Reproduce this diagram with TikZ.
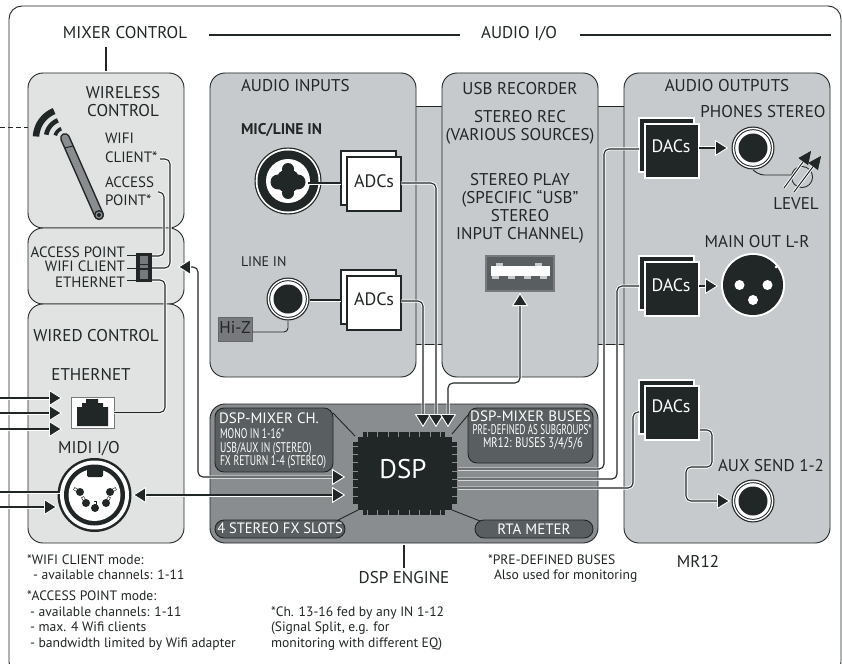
\documentclass[tikz,border=0pt]{standalone}
\usepackage{fontspec}
\usepackage{graphicx}
\setmainfont{PT Sans}
\setsansfont{PT Sans}
\usetikzlibrary{arrows.meta,calc}
\definecolor{ink}{HTML}{212626}
\definecolor{pale}{HTML}{E1E3E3}
\definecolor{midg}{HTML}{C7CACC}
\definecolor{dspg}{HTML}{8A8D90}
\definecolor{subg}{HTML}{595E60}
\definecolor{hiz}{HTML}{77797C}
\newcounter{tn}
\newcommand\fs[1]{\fontsize{#1}{#1}\selectfont}
\newcommand\txtat[4][]{\stepcounter{tn}\node[txt,#1] (t\arabic{tn}) at (#2,#3) {#4};}
\newcommand\bx[6]{\node[#6,minimum width={((#4)-(#2))*1pt},minimum height={((#5)-(#3))*1pt}] (#1) at ({((#2)+(#4))/2},{((#3)+(#5))/2}) {};}
\newcommand\disc[5]{\node[circle,fill=#4,minimum size={2*#3*1pt},inner sep=0,outer sep=0] (#5) at (#1,#2) {};}
\newcommand\jack[3]{%
  \disc{#2}{#3}{21.5}{ink}{#1}\disc{#2}{#3}{20.3}{white}{#1a}%
  \disc{#2}{#3}{18.8}{ink}{#1b}\disc{#2}{#3}{17.8}{white}{#1c}\disc{#2}{#3}{14.5}{ink}{#1d}}
\newcommand\adc[4]{% name x y style
  \bx{#1b}{#2}{#3}{#2+55}{#3+54}{#4}\bx{#1}{#2+6}{#3+6}{#2+60}{#3+60}{#4}}
\tikzset{
  txt/.style={text=ink,inner sep=0,outer sep=0,align=center,anchor=mid,yshift=-1.5pt,font=\fs{17}},
  lft/.style={anchor=mid west,align=left},
  note/.style={anchor=mid west,align=left,font=\fs{13.6}},
  wht/.style={text=white},
  panel/.style={draw=ink,line width=0.9pt,rounded corners=15pt,inner sep=0,outer sep=0},
  lightp/.style={panel,fill=pale},
  midp/.style={panel,fill=midg},
  dspp/.style={panel,fill=dspg},
  subp/.style={draw=ink,line width=0.9pt,fill=subg,rounded corners=9pt,inner sep=0,outer sep=0},
  band/.style={fill=midg,inner sep=0,outer sep=0},
  adcbox/.style={draw=ink,line width=1.2pt,fill=white,inner sep=0,outer sep=0},
  dacbox/.style={draw=white,line width=1.2pt,fill=ink,inner sep=0,outer sep=0},
  wire/.style={draw=ink,line width=1.1pt,rounded corners=5pt,preaction={draw=white,line width=3pt}},
  darkw/.style={draw=ink,line width=0.9pt,rounded corners=4pt},
  headw/.style={-{Triangle[length=13pt,width=16pt,color=white,fill=ink,line width=0.8pt]}},
  headb/.style={{Triangle[length=13pt,width=16pt,color=white,fill=ink,line width=0.8pt]}-{Triangle[length=13pt,width=16pt,color=white,fill=ink,line width=0.8pt]}},
  rule/.style={draw=ink,line width=2pt},
}
\begin{document}
\begin{tikzpicture}[x=1pt,y=-1pt]
\useasboundingbox (0,0) rectangle (842,663);
\fill[white] (0,0) rectangle (842,663);
% outer frame
\bx{frame}{9}{6}{841}{675}{draw=ink,line width=0.9pt,rounded corners=13pt,inner sep=0,outer sep=0}
% titles
\txtat{125}{35}{MIXER CONTROL}
\txtat{519}{35}{AUDIO I/O}
\coordinate (r1a) at (209,35);\coordinate (r1b) at (460,35);
\coordinate (r2a) at (580,35);\coordinate (r2b) at (831,35);
\coordinate (r3a) at (106,47);\coordinate (r3b) at (106,71);
\draw[rule] (r1a)--(r1b);\draw[rule] (r2a)--(r2b);\draw[rule] (r3a)--(r3b);
% left panels
\bx{wless}{28}{73}{184}{228}{lightp}
\bx{switchp}{28}{228}{184}{304}{lightp}
\bx{wired}{28}{304}{184}{543}{lightp}
% audio bands and panels
\bx{band1}{410}{106}{450}{344}{band}
\bx{band2}{590}{106}{630}{344}{band}
\coordinate (b1a) at (416,106);\coordinate (b1b) at (442,106);\coordinate (b1c) at (416,344);\coordinate (b1d) at (442,344);
\coordinate (b2a) at (598,106);\coordinate (b2b) at (624,106);\coordinate (b2c) at (598,344);\coordinate (b2d) at (624,344);
\draw[ink,line width=0.9pt] (b1a)--(b1b) (b1c)--(b1d) (b2a)--(b2b) (b2c)--(b2d);
\bx{ain}{210}{73}{416}{377}{midp}
\bx{usb}{442}{73}{598}{377}{midp}
\bx{aout}{624}{73}{830}{543}{midp}
\bx{dsp}{210}{404}{598}{543}{dspp}
% wireless
\coordinate (wf0) at (0,127);\coordinate (wf1) at (28,127);
\draw[ink,line width=0.9pt,dash pattern=on 5pt off 3pt] (wf0)--(wf1);
\draw[ink,line width=6.5pt] plot[domain=177:112,samples=24] ({65+29*cos(\x)},{138-29*sin(\x)});
\draw[ink,line width=4.6pt] plot[domain=170:112,samples=20] ({65+19*cos(\x)},{138-19*sin(\x)});
\draw[ink,line width=3.6pt] plot[domain=165:112,samples=16] ({65+10*cos(\x)},{138-10*sin(\x)});
\coordinate (ant1) at (65,138);\coordinate (ant2) at (99,215);
\draw[ink,line width=10pt,line cap=round] (ant1)--(ant2);
\draw[dspg,line width=7pt,line cap=round] (ant1)--(ant2);
\coordinate (ant3) at (64.5,148);\coordinate (ant4) at (73,146);
\draw[ink,line width=1pt] (ant3)--(ant4);
\disc{99}{215}{5}{ink}{antbase}\disc{99}{215}{3.5}{dspg}{antbasea}\disc{99}{215}{2}{ink}{antbaseb}
\txtat{123}{95}{WIRELESS}
\txtat{123}{113}{CONTROL}
\txtat[lft,font=\fs{15}]{105}{140}{WIFI}
\txtat[lft,font=\fs{15}]{105}{159}{CLIENT*}
\txtat[lft,font=\fs{15}]{105}{183}{ACCESS}
\txtat[lft,font=\fs{15}]{105}{201}{POINT*}
% switch panel
\txtat[anchor=mid east,font=\fs{15}]{125}{253}{ACCESS POINT}
\txtat[anchor=mid east,font=\fs{15}]{125}{267}{WIFI CLIENT}
\txtat[anchor=mid east,font=\fs{15}]{125}{283}{ETHERNET}
\bx{sw}{136}{253}{152}{282}{fill=ink,inner sep=0,outer sep=0}
\bx{sw1}{140}{256}{148}{264}{fill=hiz,inner sep=0,outer sep=0}
\bx{sw2}{140}{265}{148}{268}{fill=hiz,inner sep=0,outer sep=0}
\bx{sw3}{140}{270}{148}{279}{fill=hiz,inner sep=0,outer sep=0}
\coordinate (swa) at (127,255);\coordinate (swb) at (127,268);\coordinate (swc) at (127,280);
\coordinate (swa2) at (136,255);\coordinate (swb2) at (136,268);\coordinate (swc2) at (136,280);
\draw[ink,line width=1pt] (swa)--(swa2) (swb)--(swb2) (swc)--(swc2);
\coordinate (swar) at (152,256);\coordinate (swbr) at (152,268);\coordinate (swcr) at (152,280);
\coordinate (apt) at (158,192);\coordinate (cli) at (160,159);
\draw[wire] (apt) -| (164,225) |- (swar);
\draw[wire] (cli) -| (170,225) |- (swbr);
% wired panel
\txtat{96}{337}{WIRED CONTROL}
\txtat{91}{376}{ETHERNET}
\txtat{89}{449}{MIDI I/O}
\bx{rj}{71}{397}{114}{428}{fill=white,draw=hiz,line width=0.5pt,inner sep=0,outer sep=0}
\fill[ink] (86,399) -- (98,399) -- (98,403) -- (103,403) -- (103,407) -- (108,407) -- (108,426) -- (77,426) -- (77,407) -- (82,407) -- (82,403) -- (86,403) -- cycle;
\draw[wire] (swcr) -| (165,412.5) -- (rj.east);
\coordinate (l1) at (0,398);\coordinate (l1e) at (62,398);
\coordinate (l2) at (0,413);\coordinate (l2e) at (62,413);
\coordinate (l3) at (0,429);\coordinate (l3e) at (62,429);
\draw[wire,headw] (l1)--(l1e);\draw[wire,headw] (l2)--(l2e);\draw[wire,headw] (l3)--(l3e);
% MIDI
\disc{94.5}{495}{37}{ink}{midi}\disc{94.5}{495}{34.5}{white}{midia}\disc{94.5}{495}{30.5}{ink}{midib}\disc{94.5}{495}{26}{white}{midic}
\fill[ink,rounded corners=1.5pt] (87,467) rectangle (103,477);
\foreach \px/\py/\ang in {80/492/150,86/503/120,95/508/90,106/503/60,110/492/30}{
  \draw[ink,line width=3pt] ({\px+3*cos(\ang)},{\py-3*sin(\ang)}) -- ({\px+7*cos(\ang)},{\py-7*sin(\ang)});
  \draw[white,line width=1.8pt] ({\px+3.6*cos(\ang)},{\py-3.6*sin(\ang)}) -- ({\px+6.4*cos(\ang)},{\py-6.4*sin(\ang)});
  \fill[ink] (\px,\py) circle[radius=4pt];
}
\coordinate (m1) at (0,492);\coordinate (m1e) at (60,492);
\coordinate (m2) at (0,507);\coordinate (m2e) at (57,507);
\draw[wire] (m1)--(m1e);\draw[wire,headw] (m2)--(m2e);
% wires to chip
\coordinate (c1) at (345,477);\coordinate (c2) at (345,495);
\coordinate (mr) at (133,495);\coordinate (swin) at (178,267);
\draw[wire,headb] (swin) -- (198,267) -- (198,477) -- (c1);
\draw[wire,headb] (mr) -- (c2);
% audio inputs
\txtat[lft]{241}{88}{AUDIO INPUTS}
\txtat[lft,font=\fs{15.5}\bfseries]{241}{131}{MIC/LINE IN}
\txtat[lft,font=\fs{14}]{241}{262}{LINE IN}
\disc{288}{181}{33.5}{ink}{combo}\disc{288}{181}{32.3}{white}{comboa}\disc{288}{181}{30.5}{ink}{combob}\disc{288}{181}{22}{white}{comboc}
\fill[ink] (288,181) circle[radius=12pt] (278,182) circle[radius=7.5pt] (298,182) circle[radius=7.5pt] (288,169) circle[radius=6pt] (288,193) circle[radius=6pt];
\coordinate (cmb) at (308,183);
\adc{adc1}{341}{151}{adcbox}
\adc{adc2}{341}{270}{adcbox}
\draw[wire] (cmb) -- (adc1b.west |- cmb);
\txtat[font=\fs{18}]{374}{183}{ADCs}
\txtat[font=\fs{18}]{374}{301}{ADCs}
\jack{lin}{288}{299}
\coordinate (lin2) at (341,300);\coordinate (lin1) at (310,300);
\draw[wire] (lin1)--(lin2);
\bx{hz}{218}{317}{252}{341}{fill=hiz,draw=ink!70,line width=0.6pt,inner sep=0,outer sep=0}
\txtat{235}{329.5}{Hi-Z}
\draw[darkw] (hz.east |- 0,332) -| (288,321);
% usb
\txtat{520}{91}{USB RECORDER}
\txtat{520}{119}{STEREO REC}
\txtat{520}{137}{(VARIOUS SOURCES)}
\txtat{520}{181}{STEREO PLAY}
\txtat{520}{199}{(SPECIFIC “USB”}
\txtat{520}{217}{STEREO}
\txtat{520}{235}{INPUT CHANNEL)}
\bx{usbp}{486}{256}{554}{291}{fill=subg,draw=hiz,line width=1.2pt,inner sep=0,outer sep=0}
\bx{usbt}{491}{266}{550}{276}{fill=white,inner sep=0,outer sep=0}
\foreach \tx in {496,535}{\fill[midg] (\tx,263) rectangle (\tx+7,266);}
\foreach \tx in {492,508,524,540}{\fill[midg] (\tx,276) rectangle (\tx+7,278.5);}
% adc wires down
\coordinate (h1) at (423,427);\coordinate (h2) at (436,427);\coordinate (h3) at (448,427);
\draw[wire,headw] (adc2.east |- 0,301) -| (h1);
\draw[wire,headw] (adc1.east |- 0,183) -| (h2);
\coordinate (ut) at (520,293);
\draw[wire,headb] (h3) -- (448,383) -- (520,383) -- (ut);
% audio outputs
\txtat{727}{88}{AUDIO OUTPUTS}
\txtat{763}{114}{PHONES STEREO}
\txtat{757}{243}{MAIN OUT L-R}
\txtat{796}{205}{LEVEL}
\txtat{771}{467}{AUX SEND 1-2}
\adc{dac1}{639}{118}{dacbox}
\adc{dac2}{639}{256}{dacbox}
\adc{dac3}{639}{380}{dacbox}
\txtat[wht,font=\fs{18}]{671}{149}{DACs}
\txtat[wht,font=\fs{18}]{671}{287}{DACs}
\txtat[wht,font=\fs{18}]{671}{408}{DACs}
\jack{j1}{753}{148}
\disc{753}{285}{32}{white}{xlr}\disc{753}{285}{30}{ink}{xlra}
\disc{739.5}{285}{5}{white}{xp1}\disc{767.5}{285}{5}{white}{xp2}\disc{753}{300}{5}{white}{xp3}
\fill[white] (776,267) circle[radius=1.5pt];
\jack{j3}{753}{501}
\coordinate (j1t) at (728,148);\coordinate (xt) at (718,286);\coordinate (j3t) at (730,501);
\coordinate (d1o) at (699,148);\coordinate (d2o) at (699,286);
\draw[wire,headw] (d1o)--(j1t);\draw[wire,headw] (d2o)--(xt);
\coordinate (d3o) at (700,430);
\draw[wire,headw] (d3o) -- (712,430) -- (712,467) -- (686,467) -- (686,501) -- (j3t);
% level knob
\coordinate (kn) at (753,170);
\draw[darkw] (kn) -- (760,175) -- (792,175);
\disc{802}{177}{11}{ink}{knob}\disc{802}{177}{10}{midg}{knoba}
\coordinate (k1a) at (784,188);\coordinate (k1b) at (811,151);
\coordinate (k2a) at (794,192);\coordinate (k2b) at (821,156);
\tikzset{lv/.style={draw=ink,line width=1pt,preaction={draw=white,line width=2.8pt},-{Triangle[length=13pt,width=11pt,color=ink,fill=ink]}}}
\draw[lv] (k1a)--(k1b);\draw[lv] (k2a)--(k2b);
% DSP
\bx{chip}{358}{437}{452}{510}{fill=ink,inner sep=0,outer sep=0}
\bx{chipb}{363}{432}{445}{515}{fill=ink,inner sep=0,outer sep=0}
\bx{chipc}{353}{442}{457}{505}{fill=ink,inner sep=0,outer sep=0}
\foreach \q in {0,...,7}{
  \draw[dspg,line width=0.6pt] ({367+\q*10.5},432) -- ({367+\q*10.5},437);
  \draw[dspg,line width=0.6pt] ({367+\q*10.5},510) -- ({367+\q*10.5},515);
  \draw[dspg,line width=0.6pt] (353,{446+\q*8.3}) -- (358,{446+\q*8.3});
  \draw[dspg,line width=0.6pt] (452,{446+\q*8.3}) -- (457,{446+\q*8.3});
}
\txtat[wht,font=\fs{27}]{403}{474}{DSP}
\bx{mch}{215}{408}{333}{472}{subp}
\bx{mbus}{468}{408}{593}{463}{subp}
\bx{fxs}{215}{520}{345}{538}{subp}
\bx{rta}{475}{520}{593}{538}{subp}
\coordinate (q1) at (333,413);\coordinate (q2) at (355,436);
\coordinate (q3) at (468,415);\coordinate (q4) at (452,434);
\coordinate (q5) at (338,520);\coordinate (q6) at (358,510);
\coordinate (q7) at (480,521);\coordinate (q8) at (452,510);
\draw[ink,line width=0.9pt] (q1)--(q2) (q3)--(q4) (q5)--(q6) (q7)--(q8);
\txtat[lft,wht,font=\fs{15}]{219}{419}{DSP-MIXER CH.}
\txtat[lft,wht,font=\fs{14}]{220}{434}{\scalebox{.69}[1]{MONO IN 1-16*}}
\txtat[lft,wht,font=\fs{14}]{220}{448}{\scalebox{.69}[1]{USB/AUX IN (STEREO)}}
\txtat[lft,wht,font=\fs{14}]{220}{461}{\scalebox{.69}[1]{FX RETURN 1-4 (STEREO)}}
\txtat[wht,font=\fs{15}]{530.5}{417}{DSP-MIXER BUSES}
\txtat[wht,font=\fs{14}]{532}{430}{\scalebox{.64}[1]{PRE-DEFINED AS SUBGROUPS*}}
\txtat[wht,font=\fs{14}]{533}{443}{\scalebox{.76}[1]{MR12: BUSES 3/4/5/6}}
\txtat[wht,font=\fs{15}]{280}{529}{\scalebox{.97}[1]{4 STEREO FX SLOTS}}
\txtat[wht,font=\fs{15}]{534}{530}{RTA METER}
% DSP outputs
\coordinate (o1) at (458,469);\coordinate (o2) at (458,479);\coordinate (o3) at (458,488);
\draw[wire] (o1) -- (604,469) -- (604,149) -- (dac1b.west |- 0,149);
\draw[wire] (o2) -- (617,479) -- (617,286) -- (dac2b.west |- 0,286);
\draw[wire] (o3) -- (633,488) -- (633,412) -- (dac3b.west |- 0,412);
% bottom
\coordinate (dt1) at (404,545);\coordinate (dt2) at (404,568);
\draw[rule] (dt1)--(dt2);
\txtat{404}{579}{DSP ENGINE}
\txtat{698}{563}{MR12}
\txtat[note]{27}{560}{*WIFI CLIENT mode:}
\txtat[note]{33}{575}{- available channels: 1-11}
\txtat[note]{27}{596}{*ACCESS POINT mode:}
\txtat[note]{30}{612}{- available channels: 1-11}
\txtat[note]{30}{627}{- max. 4 Wifi clients}
\txtat[note]{30}{643}{- bandwidth limited by Wifi adapter}
\txtat[note]{271}{612}{*Ch. 13-16 fed by any IN 1-12}
\txtat[note]{271}{627}{(Signal Split, e.g. for}
\txtat[note]{271}{643}{monitoring with different EQ)}
\txtat[note]{488}{560}{*PRE-DEFINED BUSES}
\txtat[note]{494}{575}{Also used for monitoring}
\end{tikzpicture}
\end{document}
